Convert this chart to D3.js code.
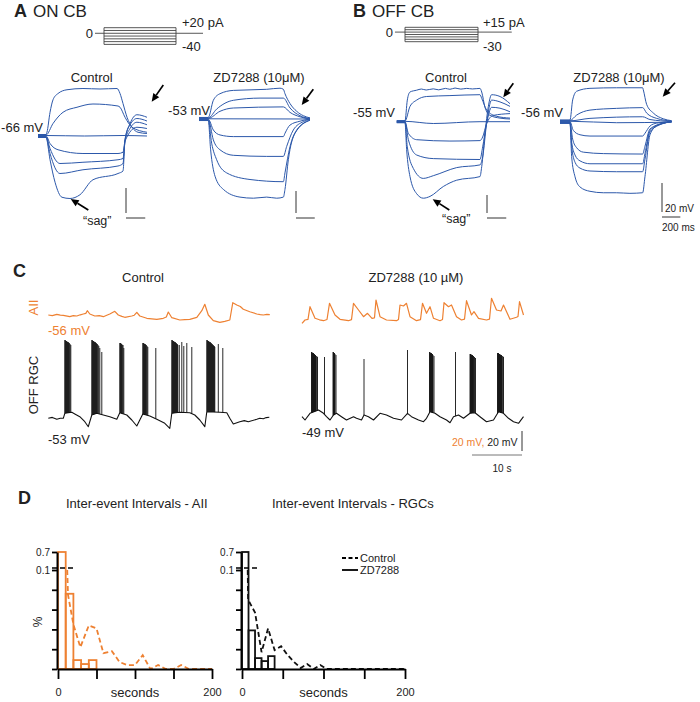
<!DOCTYPE html>
<html><head><meta charset="utf-8">
<script src="https://cdn.jsdelivr.net/npm/d3@7"></script>
<style>body{margin:0;background:#fff}svg{display:block}text{font-family:"Liberation Sans",Arial,sans-serif}</style>
</head><body><svg id="c" width="700" height="702"></svg>
<script>
// ---------- DATA ----------
// Current-step protocols (pA)
const protoA_pA = [20, 10, 0, -10, -20, -30, -40];
const protoB_pA = [15, 7.5, 0, -7.5, -15, -22.5, -30];
const stepMs = 800;
const protoA_ms = [-100, 1100];
const protoB_ms = [-110, 1170];

// Voltage responses [ms, mV relative to rest]
const A_ctrl_traces = [
 [[-83,1.2],[0,1.2],[10,3],[42,19],[73,29],[125,34],[218,37],[384,38],[561,37.6],[738,38],[769,34],[800,26],[842,15],[894,7],[956,3],[1049,2]],
 [[-83,0.8],[0,0.8],[73,10],[177,19],[322,23],[488,25.6],[748,24],[769,23],[821,15],[894,7],[1049,3]],
 [[-83,0.4],[0,0.4],[400,0],[800,0.4],[1049,0]],
 [[-83,0],[0,0],[42,-6],[125,-11],[384,-14],[748,-14],[800,-13],[821,-4],[945,7],[1049,6]],
 [[-83,-0.4],[0,-0.4],[42,-10],[145,-22],[384,-21],[748,-19],[800,-18],[821,-4],[873,6],[945,11],[1049,9]],
 [[-83,-0.8],[0,-0.8],[42,-14],[145,-30],[384,-27],[748,-24],[800,-22],[821,-3],[873,9],[945,14],[1049,12]],
 [[-83,-1.2],[0,-1.2],[42,-19],[94,-37],[166,-49],[249,-50],[353,-47],[488,-35],[748,-30],[800,-28],[821,-3],[873,10],[945,17],[1049,15]]
];
const A_zd_traces = [
 [[-96,1.4],[3,1.4],[57,17],[128,23],[270,26],[626,27],[768,28],[804,27],[821,23],[875,14],[946,7],[1017,3],[1088,1]],
 [[-96,1],[3,1],[92,9],[270,17],[555,19],[804,19],[875,10],[981,3],[1088,0.5]],
 [[-96,0.6],[3,0.6],[128,7],[270,10],[804,11],[875,6],[981,2],[1088,0]],
 [[-96,0.2],[1088,0]],
 [[-96,-0.2],[3,-0.2],[57,-10],[128,-14.5],[270,-16],[804,-16],[821,-13],[875,-5.5],[981,-2],[1088,0]],
 [[-96,-0.6],[3,-0.6],[57,-19],[128,-28],[270,-33],[626,-34],[804,-34],[839,-25],[910,-10],[1017,-2.4],[1088,-0.3]],
 [[-96,-1],[3,-1],[39,-22],[92,-37],[199,-49],[448,-55],[804,-57],[821,-49],[875,-25],[946,-10],[1088,-1]],
 [[-96,-1.4],[3,-1.4],[28,-28],[75,-52],[164,-64],[341,-71],[484,-72],[626,-71],[733,-72],[804,-71],[821,-64],[857,-37],[928,-13],[1088,-1]]
];
const B_ctrl_traces = [
 [[-86,1.2],[0,1.2],[24,24],[52,33],[121,35],[170,36.3],[220,35.2],[294,36.5],[350,35.4],[420,37],[467,36],[520,37.4],[580,36.2],[641,37],[700,36.4],[779,37],[797,33],[831,16],[883,7],[987,4],[1091,3]],
 [[-86,0.8],[0,0.8],[52,17],[121,24],[225,28],[467,29],[779,30],[797,26],[848,13],[952,6],[1091,4]],
 [[-86,0.4],[0,0.4],[294,-2],[779,0],[1091,0]],
 [[-86,0],[0,0],[35,-13],[121,-20],[467,-21.5],[779,-21],[807,-17],[848,-2],[918,7],[1091,9]],
 [[-86,-0.4],[0,-0.4],[35,-20],[121,-37],[294,-41],[779,-42],[807,-28],[848,-2],[900,16],[987,15],[1091,11]],
 [[-86,-0.8],[0,-0.8],[24,-28],[87,-52],[190,-63],[294,-60],[537,-51],[779,-48],[807,-39],[848,-2],[900,24],[987,22],[1091,17]],
 [[-86,-1.2],[0,-1.2],[17,-31],[52,-61],[121,-80],[190,-85],[260,-83],[398,-72],[537,-65],[779,-61],[797,-50],[831,-13],[866,17],[900,30],[987,28],[1091,20]]
];
const B_zd_traces = [
 [[-109,1.2],[0,1.2],[29,15],[73,21],[218,23],[509,23.4],[793,23.4],[800,22],[836,12],[909,6],[1018,2],[1109,0.7]],
 [[-109,0.9],[0,0.9],[73,4.6],[218,8],[509,9.2],[793,9.7],[836,6],[945,2.3],[1109,0.5]],
 [[-109,0.6],[0,0.6],[218,2.3],[793,3.4],[873,1.5],[1109,0.2]],
 [[-109,0.3],[0,0.3],[509,-0.7],[1109,-0.3]],
 [[-109,0],[0,0],[36,-6],[109,-9],[218,-9.9],[793,-9.9],[818,-8],[873,-3],[945,-1],[1109,0]],
 [[-109,-0.3],[0,-0.3],[29,-12],[73,-18],[145,-21],[364,-22],[793,-22.3],[818,-17],[873,-5],[1018,-1],[1109,0]],
 [[-109,-0.6],[0,-0.6],[18,-14],[55,-23],[109,-27],[218,-29],[793,-29],[818,-22],[873,-6],[1018,-1],[1109,0]],
 [[-109,-0.9],[0,-0.9],[18,-17],[55,-28],[109,-32],[218,-34],[509,-34.5],[793,-34.5],[818,-26],[873,-7],[1018,-1.2],[1109,0]],
 [[-109,-1.2],[0,-1.2],[18,-24],[55,-38],[109,-45],[218,-48],[364,-49],[509,-49],[654,-49.4],[793,-49],[818,-38],[873,-9],[945,-3],[1109,0]]
];

// Panel C: [s, mV relative to rest]
const AII_ctrl = [[0,1],[0.8,0.4],[1.7,1.7],[2.4,0.9],[3,0.7],[4.3,-0.7],[5.0,0.3],[5.7,0],[6.4,1.2],[7,2],[7.5,2.6],[7.8,5.3],[8.3,2],[9.3,0],[10.2,0.4],[11,-0.7],[11.7,0.8],[12.3,2],[13.3,4.7],[14,1],[14.7,-0.4],[15.3,-1.3],[16.7,0],[17.2,0.8],[17.7,3.7],[18.3,0],[19.7,-2.3],[20.7,-2.8],[21.7,-3.3],[23,-2.3],[23.6,-1],[24,4],[24.7,-1.7],[26.3,-4],[27.3,-3.6],[28.3,-3.3],[29.7,-1.3],[30.7,5.3],[31.3,11.7],[32,1],[33,-4.7],[34.3,-6.3],[35.3,-5.4],[36.3,-4],[36.9,13.3],[37.7,11],[38.4,9.5],[39,6.7],[40.3,4.3],[41.7,2],[42.4,1.4],[43,1],[43.7,1.6],[44.3,1.3]];
const AII_zd = [[0,-3.3],[0.6,0],[1.2,0.6],[1.6,13.3],[2.6,1.7],[3.5,0.2],[4.3,-0.7],[5,0.5],[5.5,16.7],[6.6,5],[7.6,0.7],[9.3,-0.7],[9.9,0.4],[10.3,16.7],[11.3,10],[12.3,3.3],[13.1,6.7],[14,1.7],[14.5,2.2],[14.8,20],[15.6,3.3],[16.9,0],[18.9,-0.7],[19.3,0.6],[19.6,15],[20.3,14],[20.9,16.7],[21.6,3.3],[22.9,-0.7],[23.7,0.4],[24.1,16.7],[24.9,6.7],[25.6,13.3],[26.3,1.7],[27.6,-0.7],[28.1,0.5],[28.4,17.3],[29.3,13.3],[29.9,15],[30.9,3.3],[31.9,0],[32.5,0.8],[32.9,19.3],[33.9,5],[34.4,8.3],[35.3,1.7],[36.9,0],[37.5,0.8],[37.9,21.7],[38.9,10],[39.8,9],[40.3,15],[41.6,0.7],[42.9,2.7],[43.2,3.5],[43.5,18.3],[44.3,5]];
const RGC_ctrl = [[0,-0.3],[0.8,0.6],[1.7,-1.3],[2.4,-0.2],[3,-0.3],[3.3,4.7],[4.7,5.7],[5.3,4],[6.3,1.3],[7.3,-3.7],[8,-8.7],[8.7,3],[9.7,4.7],[11,3],[12.3,1.3],[13.7,-1.3],[14.3,5.3],[15.7,3],[16.7,-2],[17.7,-8],[18.9,4],[20.3,2],[21.7,-1.3],[23.3,-5.3],[24.3,-10.3],[24.7,4.7],[26.3,5.7],[28.3,5.3],[29.3,3],[30.3,-2],[31.3,-8.7],[31.7,6.3],[34.3,5.7],[35.7,5.3],[36.3,-0.3],[37,-6],[38.3,-3.7],[39.2,-2.6],[40,-3.7],[41.7,-1.3],[42.3,-0.2],[43,-0.7],[43.6,0.4],[44.2,0.7]];
const RGC_zd = [[0,0.3],[0.6,-3],[1.6,3.7],[3.3,7],[4.3,3.7],[4.9,0.3],[5.6,-3],[6.3,2],[6.9,3.7],[7.9,0.3],[8.9,-3],[10.3,0.3],[10.9,-1.3],[11.9,-3],[12.4,2],[13.3,0.3],[14.3,-3],[15.6,3.7],[16.9,2],[18.3,-1.3],[19.9,-3],[21.1,3.7],[21.9,0.3],[23.3,-3],[24.3,-4.7],[24.9,-1.3],[25.6,5.3],[26.6,3.7],[27.6,0.3],[28.9,-3],[29.6,-5.7],[30.3,0.3],[31.3,2],[32.3,-1.3],[33.6,3.7],[34.6,4.3],[35.6,0.3],[36.9,-4.7],[38.3,-3],[39.3,5.3],[40.3,3.7],[41.3,-1.3],[42.3,-4.7],[43.3,-6.3],[44.3,0.3]];
// spikes [s, peak mV relative to rest]
const RGC_ctrl_spikes = [
 [3.3,78],[3.4,78],[3.5,77],[3.6,77],[3.7,77],[3.8,76],[3.9,76],[4.0,76],[4.1,75],[4.2,75],[4.35,74],[4.5,73],
 [8.7,78],[8.8,78],[8.9,77],[9.0,77],[9.1,77],[9.2,76],[9.3,76],[9.4,76],[9.5,75],[9.6,75],[9.7,74],[9.8,74],[9.95,73],[10.1,72],[10.3,70],[10.7,66],
 [14.3,75],[14.4,75],[14.5,75],[14.6,74],[14.7,74],[14.8,73],[14.95,73],[15.1,70],
 [18.9,75],[19.0,75],[19.1,75],[19.2,74],[19.3,74],[19.4,74],[19.5,73],[19.6,73],[19.75,72],[19.9,71],[21.5,70],
 [24.7,78],[24.8,78],[24.9,77],[25.0,77],[25.1,77],[25.2,76],[25.3,76],[25.4,76],[25.5,75],[25.6,75],[25.7,74],[25.8,74],[25.9,73],[26.2,73],[26.7,76],[27.1,72],[27.7,75],[28.7,71],
 [31.7,78],[31.8,78],[31.9,77],[32.0,77],[32.1,77],[32.2,76],[32.3,76],[32.4,76],[32.5,75],[32.6,75],[32.7,74],[32.8,74],[32.9,73],[33.0,73],[33.1,72],[33.2,72],[33.3,71],[34.0,74],[34.9,70]
];
const RGC_zd_spikes = [
 [1.9,65],[2.0,65],[2.1,64],[2.2,64],[2.3,64],[2.4,63],[2.5,63],[2.6,62],[2.7,62],[2.8,61],[2.95,61],[3.1,60],[4.5,60],
 [6.2,65],[6.3,65],[6.4,64],[6.5,64],[6.6,63],[6.8,62],
 [12.4,58],[21.1,67],
 [25.5,65],[25.6,65],[25.7,64],[25.8,64],[25.9,64],[26.0,63],[26.1,63],[26.2,62],[26.4,61],
 [30.7,65],
 [33.6,63],[33.7,63],[33.8,63],[33.9,62],[34.0,62],[34.1,62],[34.2,61],[34.3,61],[34.5,60],[34.7,59],
 [39.1,64],[39.2,64],[39.3,64],[39.4,63],[39.5,63],[39.6,63],[39.7,62],[39.8,62],[39.9,62],[40.0,61],[40.15,61],[40.3,60]
];

// Panel D histograms (fraction)
const binAII_s = 10;
const zdAII_frac = [0.7, 0.076, 0.009, 0.005, 0.009];
const ctrlAII = [[12,0.1],[13,0.075],[20,0.045],[29,0.022],[40,0.044],[50,0.041],[59,0.016],[70,0.018],[80,0.007],[90,0.004],[100,0.004],[110,0.014],[120,0],[130,0.004],[140,0],[150,0],[160,0.004],[170,0],[180,0],[190,0],[200,0]];
const binRGC_s = 8;
const zdRGC_frac = [0.7, 0.039, 0.011, 0.008, 0.013];
const ctrlRGC = [[7,0.1],[7.5,0.07],[16,0.057],[24,0.017],[32,0.041],[40,0.019],[48,0.023],[56,0.014],[64,0.007],[72,0.001],[80,0.005],[88,0],[96,0.004],[104,0],[120,0],[160,0],[200,0]];
const histXTicks = [0, 50, 100, 150, 200];
const histYTicks = [0, 0.02, 0.04, 0.06, 0.08, 0.1, 0.7];

// ---------- DRAW ----------
const svg = d3.select("#c");
const BLUE = "#2c58aa", ORANGE = "#ee8132", INK = "#222";

function T(x, y, s, o = {}) {
  const t = svg.append("text").attr("x", x).attr("y", y).text(s)
    .attr("font-size", o.fs || 13).attr("fill", o.c || INK);
  if (o.a) t.attr("text-anchor", o.a);
  if (o.w) t.attr("font-weight", o.w);
  if (o.r) t.attr("transform", `rotate(${o.r},${x},${y})`);
  return t;
}
function seg(x1, y1, x2, y2, c = "#000", w = 1, dash) {
  const l = svg.append("line").attr("x1", x1).attr("y1", y1).attr("x2", x2).attr("y2", y2)
    .attr("stroke", c).attr("stroke-width", w);
  if (dash) l.attr("stroke-dasharray", dash);
  return l;
}
function arrow(x1, y1, x2, y2) {
  const a = Math.atan2(y2 - y1, x2 - x1), L = 8, W = 3.6;
  const bx = x2 - L * Math.cos(a), by = y2 - L * Math.sin(a);
  seg(x1, y1, bx, by, "#000", 1.7);
  svg.append("path").attr("fill", "#000")
    .attr("d", `M${x2},${y2}L${bx + W * Math.sin(a)},${by - W * Math.cos(a)}L${bx - W * Math.sin(a)},${by + W * Math.cos(a)}Z`);
}

// --- protocols
function protocol(levels, span, L) {
  const x = d3.scaleLinear().domain([0, stepMs]).range([L.x0, L.x1]);
  const y = d3.scaleLinear().domain([levels[0], levels[levels.length - 1]]).range([L.yTop, L.yBot]);
  const g = svg.append("g").attr("stroke", "#444").attr("stroke-width", 0.9);
  g.selectAll(null).data(levels).join("line")
    .attr("x1", x(0)).attr("x2", x(stepMs)).attr("y1", d => y(d)).attr("y2", d => y(d));
  [0, stepMs].forEach(t => g.append("line").attr("x1", x(t)).attr("x2", x(t))
    .attr("y1", y(levels[0])).attr("y2", y(levels[levels.length - 1])));
  g.append("line").attr("x1", x(span[0])).attr("x2", x(0)).attr("y1", y(0)).attr("y2", y(0));
  g.append("line").attr("x1", x(stepMs)).attr("x2", x(span[1])).attr("y1", y(0)).attr("y2", y(0));
  return { x, y };
}
const pA = protocol(protoA_pA, protoA_ms, { x0: 104, x1: 176, yTop: 27.7, yBot: 44.4 });
T(pA.x(protoA_ms[0]) - 2, pA.y(0) + 4.6, "0", { a: "end" });
T(182, 26.5, "+" + protoA_pA[0] + " pA");
T(182, 51, String(protoA_pA[protoA_pA.length - 1]));
const pB = protocol(protoB_pA, protoB_ms, { x0: 405, x1: 478, yTop: 27.3, yBot: 41.7 });
T(pB.x(protoB_ms[0]) - 2, pB.y(0) + 4.6, "0", { a: "end" });
T(483, 26.5, "+" + protoB_pA[0] + " pA");
T(483, 50.5, String(protoB_pA[protoB_pA.length - 1]));

// --- panel letters / headings
T(14, 17, "A", { fs: 18, w: "bold" }); T(33, 17, "ON CB", { fs: 17 });
T(353, 17, "B", { fs: 18, w: "bold" }); T(372, 17, "OFF CB", { fs: 17 });

// --- trace panels
function tracePanel(traces, L) {
  const x = d3.scaleLinear().domain([0, stepMs]).range([L.xOn, L.xOff]);
  const y = d3.scaleLinear().domain([0, 20]).range([L.y0, L.y0 - L.bar]);
  const line = d3.line().x(d => x(d[0])).y(d => y(d[1])).curve(d3.curveMonotoneX);
  svg.append("g").selectAll("path").data(traces).join("path")
    .attr("d", line).attr("fill", "none").attr("stroke", BLUE).attr("stroke-width", 1);
  // scale bars: 20 mV and 200 ms
  const vLen = y(0) - y(20), hLen = x(200) - x(0);
  seg(L.sbX, L.sbY, L.sbX, L.sbY - vLen, "#333", 1);
  seg(L.sbX, L.sbHY, L.sbX + hLen, L.sbHY, "#333", 1);
  return { x, y };
}
tracePanel(A_ctrl_traces, { xOn: 46, xOff: 123, y0: 136, bar: 25, sbX: 126, sbY: 213, sbHY: 218 });
tracePanel(A_zd_traces, { xOn: 208, xOff: 283, y0: 119, bar: 22, sbX: 296, sbY: 213, sbHY: 218 });
tracePanel(B_ctrl_traces, { xOn: 405, xOff: 482, y0: 121.7, bar: 18, sbX: 487, sbY: 213, sbHY: 218 });
tracePanel(B_zd_traces, { xOn: 570, xOff: 643.3, y0: 121.7, bar: 29, sbX: 662, sbY: 212, sbHY: 217 });

T(91.7, 81.5, "Control", { a: "middle" });
T(259, 81.5, "ZD7288 (10μM)", { a: "middle" });
T(446, 81.5, "Control", { a: "middle" });
T(619, 81.5, "ZD7288 (10μM)", { a: "middle" });
T(43, 131.5, "-66 mV", { a: "end" });
T(210, 115, "-53 mV", { a: "end" });
T(395, 116.5, "-55 mV", { a: "end" });
T(563, 116.5, "-56 mV", { a: "end" });
T(83, 225, "“sag”", { fs: 12.5 });
T(442, 223, "“sag”", { fs: 12.5 });
T(665, 211.5, "20 mV", { fs: 10 });
T(662, 231, "200 ms", { fs: 10 });
arrow(163.3, 85, 151.7, 101.7);
arrow(88.3, 210, 70.7, 199);
arrow(313.3, 89.3, 301.7, 105);
arrow(513.3, 83.3, 503.3, 97.3);
arrow(449.3, 210, 432.7, 199.3);
arrow(675, 82.7, 662.7, 96.7);

// --- Panel C
T(13, 277, "C", { fs: 18, w: "bold" });
T(143, 282, "Control", { a: "middle" });
T(416, 282, "ZD7288 (10 µM)", { a: "middle" });
const xC1 = d3.scaleLinear().domain([0, 10]).range([48.3, 98.3]);
const xC2 = d3.scaleLinear().domain([0, 10]).range([302, 352]);
const yC = y0 => d3.scaleLinear().domain([0, 20]).range([y0, y0 - 20]);
function trace(data, x, y, color, w) {
  svg.append("path").datum(data).attr("fill", "none").attr("stroke", color).attr("stroke-width", w)
    .attr("stroke-linejoin", "round")
    .attr("d", d3.line().x(d => x(d[0])).y(d => y(d[1])));
}
function spikes(sp, base, x, y) {
  const bis = d3.bisector(d => d[0]).left;
  const foot = t => {
    const i = Math.max(1, Math.min(base.length - 1, bis(base, t)));
    const a = base[i - 1], b = base[i];
    const f = (t - a[0]) / (b[0] - a[0]);
    return a[1] + f * (b[1] - a[1]);
  };
  svg.append("g").selectAll("line").data(sp).join("line")
    .attr("x1", d => x(d[0])).attr("x2", d => x(d[0]))
    .attr("y1", d => y(foot(d[0]))).attr("y2", d => y(d[1]))
    .attr("stroke", "#111").attr("stroke-width", 0.9);
}
trace(AII_ctrl, xC1, yC(316), ORANGE, 1.2);
trace(AII_zd, xC2, yC(320), ORANGE, 1.2);
trace(RGC_ctrl, xC1, yC(418), "#111", 1.1);
trace(RGC_zd, xC2, yC(417), "#111", 1.1);
spikes(RGC_ctrl_spikes, RGC_ctrl, xC1, yC(418));
spikes(RGC_zd_spikes, RGC_zd, xC2, yC(417));
T(38, 307.5, "AII", { c: ORANGE, a: "middle", r: -90 });
T(48, 334.5, "-56 mV", { c: ORANGE });
T(38, 385, "OFF RGC", { a: "middle", r: -90 });
T(48, 444, "-53 mV");
T(302, 437, "-49 mV");
{
  const ys = yC(417), xs = xC2;
  const sbX = xs(44), sbBottom = 451;
  seg(sbX, sbBottom, sbX, sbBottom - (ys(0) - ys(20)), "#333", 1);
  seg(sbX - (xs(10) - xs(0)), 455, sbX, 455, "#777", 1);
  const t = svg.append("text").attr("x", 452).attr("y", 445.5).attr("font-size", 10.5);
  t.append("tspan").attr("fill", ORANGE).text("20 mV,");
  t.append("tspan").attr("fill", INK).text(" 20 mV");
  T(502, 471.5, "10 s", { fs: 10, a: "middle" });
}

// --- Panel D
T(18, 503.5, "D", { fs: 18, w: "bold" });
T(66, 507.5, "Inter-event Intervals - AII");
T(272, 507.5, "Inter-event Intervals - RGCs");
seg(342, 558, 358, 558, "#000", 1.8, "4,2.5");
T(360, 561.5, "Control", { fs: 11 });
seg(342, 570, 358, 570, "#000", 1.8);
T(360, 573.5, "ZD7288", { fs: 11 });

function hist(zd, bw, ctrl, color, L) {
  const x = d3.scaleLinear().domain([0, 200]).range([L.x0, L.x1]);
  const y = d3.scaleLinear().domain([0, 0.1, 0.7]).range([669, 570, 552]);
  const g = svg.append("g");
  g.selectAll("rect").data(zd).join("rect")
    .attr("x", (d, i) => x(i * bw)).attr("width", x(bw) - x(0))
    .attr("y", d => y(d)).attr("height", d => y(0) - y(d))
    .attr("fill", "none").attr("stroke", color).attr("stroke-width", 1.8);
  g.append("path").datum(ctrl).attr("fill", "none").attr("stroke", color).attr("stroke-width", 1.8)
    .attr("stroke-dasharray", "5,3")
    .attr("d", d3.line().x(d => x(d[0])).y(d => y(d[1])));
  // break mark at 0.1
  seg(x(0) - 6, y(0.1) - 2, x(0) + 18, y(0.1) - 2, "#000", 1.6, "5,3");
  const xa = svg.append("g").attr("transform", "translate(0,669)")
    .call(d3.axisBottom(x).tickValues(histXTicks).tickSize(10).tickSizeOuter(0)
      .tickFormat(d => (d === 0 || d === 200) ? d : ""));
  xa.select(".domain").attr("stroke-width", 2);
  xa.selectAll(".tick line").attr("stroke-width", 1.8);
  xa.selectAll("text").attr("font-size", 11).attr("fill", INK).attr("font-family", "Liberation Sans, Arial, sans-serif").attr("dy", "1.3em");
  const ya = svg.append("g").attr("transform", `translate(${x(0) - 1},0)`)
    .call(d3.axisLeft(y).tickValues(histYTicks).tickSize(5).tickSizeOuter(0)
      .tickFormat(d => (d === 0.1 || d === 0.7) ? d : ""));
  ya.select(".domain").attr("stroke-width", 2);
  ya.selectAll(".tick line").attr("stroke-width", 1.8);
  ya.selectAll("text").attr("font-size", 10).attr("fill", INK).attr("font-family", "Liberation Sans, Arial, sans-serif").attr("x", -7);
  T((x(0) + x(200)) / 2, 697, "seconds", { a: "middle" });
}
hist(zdAII_frac, binAII_s, ctrlAII, ORANGE, { x0: 58, x1: 212 });
hist(zdRGC_frac, binRGC_s, ctrlRGC, "#111", { x0: 242, x1: 405 });
T(42, 622, "%", { fs: 12, a: "middle", r: -90 });
</script></body></html>
